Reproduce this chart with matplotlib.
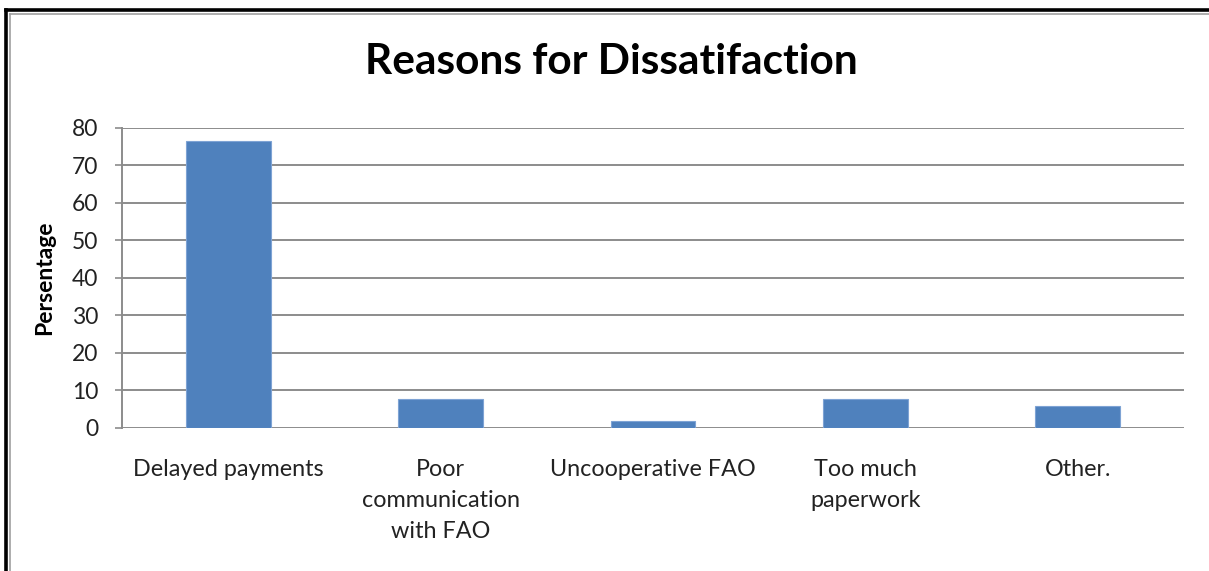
import matplotlib
matplotlib.use("Agg")
import matplotlib.pyplot as plt
from matplotlib.lines import Line2D

categories = ["Delayed payments", "Poor\ncommunication\nwith FAO", "Uncooperative FAO",
              "Too much\npaperwork", "Other."]
values = [76.3, 7.7, 1.8, 7.7, 5.8]
yticks = [0, 10, 20, 30, 40, 50, 60, 70, 80]
title = "Reasons for Dissatifaction"
ylabel = "Persentage"

plt.rcParams['font.family'] = ['Lato', 'DejaVu Sans']

W, H = 1209, 571
fig = plt.figure(figsize=(W / 100, H / 100), dpi=100)
fig.patch.set_facecolor("white")

ax = fig.add_axes([122 / W, 1 - 428 / H, (1184 - 122) / W, (428 - 127.5) / H])
x = list(range(len(categories)))
ax.bar(x, values, width=0.4, color="#4F81BD", edgecolor="#7EA3D4", linewidth=0.8, zorder=3)
ax.set_xlim(-0.5, len(categories) - 0.5)
ax.set_ylim(0, 80)
ax.set_yticks(yticks)
ax.set_yticklabels([str(v) for v in yticks], fontsize=16.5, color="#222222")
ax.set_xticks(x)
ax.set_xticklabels(categories, fontsize=16.8, color="#222222", linespacing=1.6, va="top")
ax.grid(axis="y", color="#8C8C8C", linewidth=1.4, zorder=0)
for s in ["top", "right", "bottom"]:
    ax.spines[s].set_visible(False)
ax.spines["left"].set_color("#8C8C8C")
ax.spines["left"].set_linewidth(1.4)
ax.tick_params(axis="x", length=0, pad=22)
ax.tick_params(axis="y", length=5, width=1.2, color="#8C8C8C", pad=12)
ax.set_ylabel(ylabel, fontsize=16.5, fontweight="bold", labelpad=12)

fig.text(611 / W, 1 - 62 / H, title, fontsize=30.5, fontweight="bold", ha="center", va="center")

# outer frame (black with gray inner line)
fig.add_artist(Line2D([6 / W, 1], [1 - 10 / H, 1 - 10 / H], transform=fig.transFigure,
                      color="black", linewidth=2.6))
fig.add_artist(Line2D([6 / W, 6 / W], [0, 1 - 10 / H], transform=fig.transFigure,
                      color="black", linewidth=2.6))
fig.add_artist(Line2D([10 / W, 1], [1 - 13.5 / H, 1 - 13.5 / H], transform=fig.transFigure,
                      color="#A0A0A0", linewidth=1.2))
fig.add_artist(Line2D([10 / W, 10 / W], [0, 1 - 13.5 / H], transform=fig.transFigure,
                      color="#A0A0A0", linewidth=1.2))

fig.savefig("out.png", dpi=100)
